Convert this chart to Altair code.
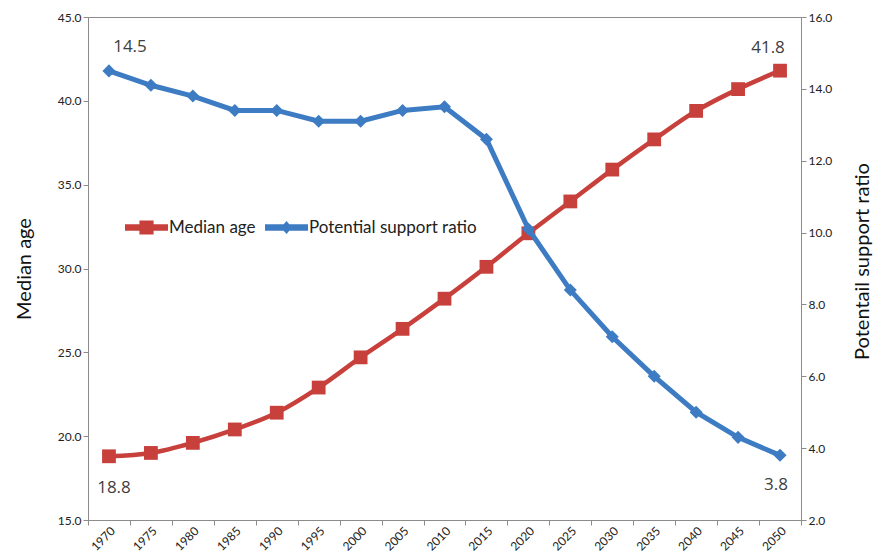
import altair as alt
import pandas as pd

years = ["1970", "1975", "1980", "1985", "1990", "1995", "2000", "2005", "2010",
         "2015", "2020", "2025", "2030", "2035", "2040", "2045", "2050"]
median_age = [18.8, 19.0, 19.6, 20.4, 21.4, 22.9, 24.7, 26.4, 28.2,
              30.1, 32.1, 34.0, 35.9, 37.7, 39.4, 40.7, 41.8]
support_ratio = [14.5, 14.1, 13.8, 13.4, 13.4, 13.1, 13.1, 13.4, 13.5,
                 12.6, 10.1, 8.4, 7.1, 6.0, 5.0, 4.3, 3.8]
left_ticks = [15, 20, 25, 30, 35, 40, 45]
right_ticks = [2, 4, 6, 8, 10, 12, 14, 16]

RED = "#C8403B"
BLUE = "#3D7CC3"
GRAY = "#8c8c8c"
FONT = "Lato"

df_age = pd.DataFrame({"year": years, "median": median_age, "series": "Median age"})
df_ratio = pd.DataFrame({"year": years, "ratio": support_ratio, "series": "Potential support ratio"})

x_enc = alt.X(
    "year:O",
    bandPosition=0.5,
    scale=alt.Scale(type="band", paddingInner=0, paddingOuter=0),
    axis=alt.Axis(title=None, labelAngle=-45, tickBand="extent", labelFont=FONT,
                  labelFontSize=12, labelColor="#222", tickSize=5, labelPadding=0),
)

axis_left = alt.Axis(title="Median age", orient="left", values=left_ticks, format=".1f",
                     grid=False, labelFont=FONT, labelFontSize=12, labelColor="#222",
                     titleFont=FONT, titleFontSize=20, titleFontWeight="normal",
                     titleColor="#111", titlePadding=23, tickSize=5)
axis_right = alt.Axis(title="Potentail support ratio", orient="right", values=right_ticks,
                      format=".1f", grid=False, labelFont=FONT, labelFontSize=12,
                      labelColor="#222", titleFont=FONT, titleFontSize=20,
                      titleFontWeight="normal", titleColor="#111", titlePadding=21,
                      titleAngle=270, titleBaseline="top", titleAlign="center",
                      titleY=244, tickSize=5)

y_left = alt.Y("median:Q", scale=alt.Scale(domain=[15, 45], nice=False, zero=False), axis=axis_left)
y_right = alt.Y("ratio:Q", scale=alt.Scale(domain=[2, 16], nice=False, zero=False), axis=axis_right)

SQ_PATH = ("M-1,-0.15L1,-0.15L1,0.15L-1,0.15Z "
           "M-0.33,-0.33L0.33,-0.33L0.33,0.33L-0.33,0.33Z")
DM_PATH = ("M-1,-0.15L1,-0.15L1,0.15L-1,0.15Z "
           "M0,-0.3L0.26,0L0,0.3L-0.26,0Z")

def legend(x, path):
    return alt.Legend(title=None, orient="none", legendX=x, legendY=189,
                      symbolType=path, symbolSize=1849, symbolStrokeWidth=0,
                      labelFont=FONT, labelFontSize=17, labelColor="#222",
                      labelOffset=1, labelLimit=0, padding=0)

txt_style = dict(font="Open Sans", fontSize=17, color="#404040")

age_base = alt.Chart(df_age)
age_line = age_base.mark_line(strokeWidth=4.5, interpolate="monotone").encode(
    x=x_enc, y=y_left, color=alt.value(RED))
age_pts = age_base.mark_point(shape="square", filled=True, size=190, opacity=1).encode(
    x=x_enc, y=y_left,
    color=alt.Color("series:N", scale=alt.Scale(domain=["Median age"], range=[RED]),
                    legend=legend(37, SQ_PATH)))
age_first = age_base.mark_text(dx=5, dy=32, **txt_style).encode(
    x=x_enc, y=y_left, text=alt.Text("median:Q", format=".1f")
).transform_filter(alt.datum.year == years[0])
age_last = age_base.mark_text(dx=-12, dy=-23, **txt_style).encode(
    x=x_enc, y=y_left, text=alt.Text("median:Q", format=".1f")
).transform_filter(alt.datum.year == years[-1])

ratio_base = alt.Chart(df_ratio)
ratio_line = ratio_base.mark_line(strokeWidth=5).encode(
    x=x_enc, y=y_right, color=alt.value(BLUE))
ratio_pts = ratio_base.mark_point(shape="diamond", filled=True, size=170, opacity=1).encode(
    x=x_enc, y=y_right,
    color=alt.Color("series:N", scale=alt.Scale(domain=["Potential support ratio"], range=[BLUE]),
                    legend=legend(177, DM_PATH)))
ratio_first = ratio_base.mark_text(dx=21, dy=-24, **txt_style).encode(
    x=x_enc, y=y_right, text=alt.Text("ratio:Q", format=".1f")
).transform_filter(alt.datum.year == years[0])
ratio_last = ratio_base.mark_text(dx=-4, dy=30, **txt_style).encode(
    x=x_enc, y=y_right, text=alt.Text("ratio:Q", format=".1f")
).transform_filter(alt.datum.year == years[-1])

left = alt.layer(age_line, age_pts, age_first, age_last)
right = alt.layer(ratio_line, ratio_pts, ratio_first, ratio_last)

chart = alt.layer(left, right).resolve_scale(
    y="independent", color="independent"
).resolve_legend(color="independent").properties(
    width=713, height=503,
    autosize="none",
    padding={"left": 80, "top": 9, "right": 72, "bottom": 36},
).configure_view(stroke=GRAY, strokeWidth=1).configure_axis(
    domainColor=GRAY, tickColor=GRAY, domainWidth=1
)

chart.save("out.html", embed_options={"renderer": "svg", "actions": False})
